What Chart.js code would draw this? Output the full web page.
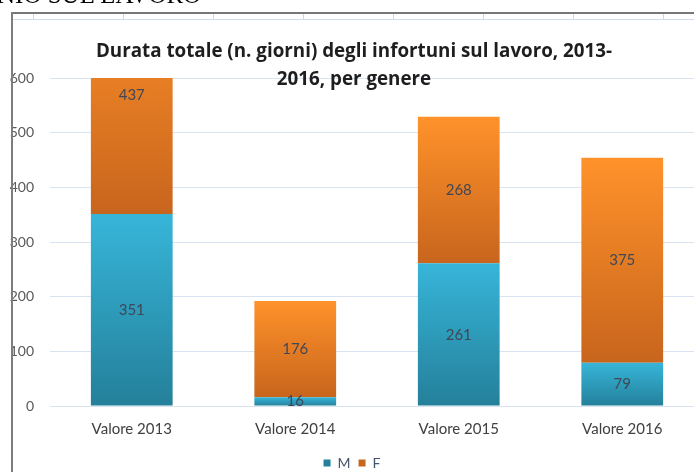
<!DOCTYPE html>
<html lang="it">
<head>
  <meta charset="UTF-8" />
  <title>Durata totale degli infortuni sul lavoro</title>
  <script src="https://cdn.jsdelivr.net/npm/chart.js"></script>
  <style>
    html, body { margin: 0; padding: 0; background: #fff; overflow: hidden; }
    #pagina { position: relative; width: 694px; height: 474px; overflow: hidden; }
    #intestazione { position: absolute; left: -3px; top: -19px; font: 25px "Liberation Serif", serif; color: #000; white-space: nowrap; }
    #grafico { position: absolute; left: 0; top: 0; width: 712px; height: 474px; }
    #titolo { position: absolute; left: 0; top: 36px; width: 708px; text-align: center;
              font: bold 18.8px "Open Sans", sans-serif; line-height: 28px; color: #1e1e1e; }
    .linea { position: absolute; }
  </style>
</head>
<body>
  <div id="pagina">
    <div id="grafico"><canvas id="chart" width="712" height="474"></canvas></div>
    <div id="titolo">Durata totale (n. giorni) degli infortuni sul lavoro, 2013-<br>2016, per genere</div>
    <div id="intestazione">NIO SUL LAVORO</div>
  </div>

  <script>
    // Dati
    const categorie = ['Valore 2013', 'Valore 2014', 'Valore 2015', 'Valore 2016'];
    const maschi = [351, 16, 261, 79];
    const femmine = [437, 176, 268, 375];
    const asseMax = 600;
    const asseStep = 100;

    // cornice del foglio
    const pagina = document.getElementById('pagina');
    function linea(l, t, w, h, col) {
      const d = document.createElement('div');
      d.className = 'linea';
      d.style.cssText = `left:${l}px;top:${t}px;width:${w}px;height:${h}px;background:${col}`;
      pagina.appendChild(d);
    }
    linea(13, 19, 681, 1, '#cfdcee');
    for (let x = 33; x < 694; x += 90) linea(x, 14, 1, 5, '#d6d6d6');
    linea(11, 12, 683, 2, '#777');
    linea(11, 12, 2, 460, '#7d7d7d');

    // gradiente per ogni segmento
    function sfumatura(ctx, basi, valori, alto, basso, pieno) {
      if (ctx.type !== 'data') return pieno;
      const chart = ctx.chart;
      const y = chart.scales.y;
      if (!y) return pieno;
      const i = ctx.dataIndex;
      const b = basi ? basi[i] : 0;
      const y0 = y.getPixelForValue(b + valori[i]);
      const y1 = y.getPixelForValue(b);
      if (!isFinite(y0) || !isFinite(y1) || y0 === y1) return pieno;
      const g = chart.ctx.createLinearGradient(0, y0, 0, y1);
      g.addColorStop(0, alto);
      g.addColorStop(1, basso);
      return g;
    }

    // etichette dei valori al centro di ogni segmento
    const etichette = {
      id: 'etichette',
      afterDatasetsDraw(chart) {
        const c = chart.ctx;
        const y = chart.scales.y;
        c.save();
        c.font = '15px Lato';
        c.fillStyle = '#404756';
        c.textAlign = 'center';
        c.textBaseline = 'middle';
        chart.data.datasets.forEach((ds, d) => {
          const meta = chart.getDatasetMeta(d);
          ds.data.forEach((v, i) => {
            const base = d === 0 ? 0 : maschi[i];
            c.fillText(String(v), meta.data[i].x, y.getPixelForValue(base + v / 2));
          });
        });
        c.restore();
      }
    };

    Chart.defaults.font.family = 'Lato';

    new Chart(document.getElementById('chart'), {
      type: 'bar',
      data: {
        labels: categorie,
        datasets: [
          {
            label: 'M',
            data: maschi,
            backgroundColor: ctx => sfumatura(ctx, null, maschi, '#37b5d9', '#24809a', '#2fa3c5'),
            borderWidth: 0
          },
          {
            label: 'F',
            data: femmine,
            backgroundColor: ctx => sfumatura(ctx, maschi, femmine, '#ff922a', '#c8651d', '#ea842a'),
            borderWidth: 0
          }
        ]
      },
      options: {
        responsive: false,
        animation: false,
        layout: { padding: { top: 78, right: 8, left: 0, bottom: -6 } },
        datasets: { bar: { categoryPercentage: 1, barPercentage: 0.5 } },
        scales: {
          x: {
            stacked: true,
            grid: { display: false },
            border: { display: false },
            ticks: { color: '#404040', font: { size: 15 }, padding: 6 },
            afterFit: s => { s.height = 42; }
          },
          y: {
            stacked: true,
            min: 0,
            max: asseMax,
            ticks: { stepSize: asseStep, color: '#595959', font: { size: 14 }, padding: 16 },
            grid: { color: '#d9e3f2', drawTicks: false },
            border: { display: false },
            afterFit: s => { s.width = 50; }
          }
        },
        plugins: {
          title: { display: false },
          tooltip: { enabled: false },
          legend: {
            position: 'bottom',
            labels: { boxWidth: 7, boxHeight: 7, padding: 8, color: '#44546a', font: { size: 14 } }
          }
        }
      },
      plugins: [etichette]
    });
  </script>
</body>
</html>
